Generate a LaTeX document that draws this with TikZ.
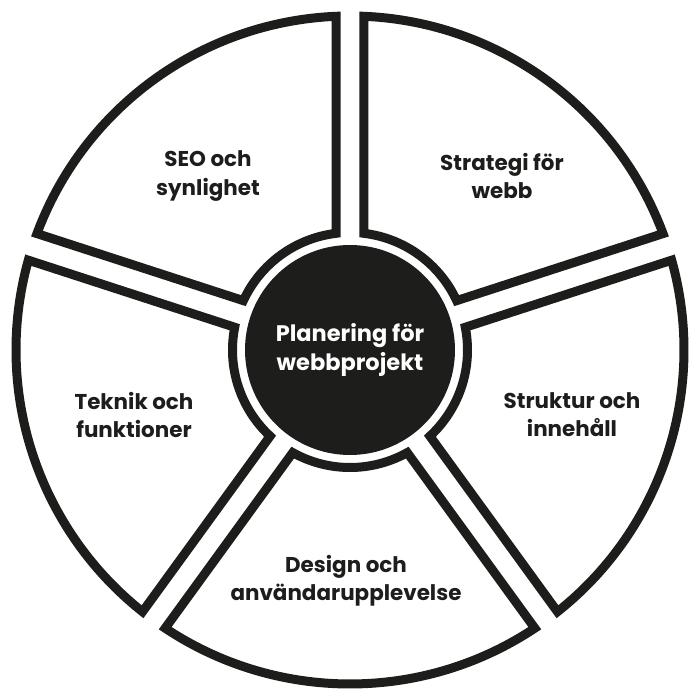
\documentclass[tikz,border=0pt]{standalone}
\usepackage{fontspec}
\setmainfont{Poppins}
\usepackage{tikz}
\usetikzlibrary{positioning}
\definecolor{ink}{RGB}{29,29,27}

\begin{document}
\begin{tikzpicture}[
    seg/.style = {draw = ink, line width = 0.18cm, fill = white},
    lbl/.style = {align = center, text = ink, font = \bfseries\fontsize{12.2}{16.2}\selectfont}
]
            \useasboundingbox (-7, -7) rectangle (7, 7);

            \draw[seg] (20.4:6.68) arc[start angle = 20.4, end angle = 87.6, radius = 6.68] -- (83.16:2.35) arc[start angle = 83.16, end angle = 24.84, radius = 2.35] -- cycle;
            \draw[seg] (92.4:6.68) arc[start angle = 92.4, end angle = 159.6, radius = 6.68] -- (155.16:2.35) arc[start angle = 155.16, end angle = 96.84, radius = 2.35] -- cycle;
            \draw[seg] (164.4:6.68) arc[start angle = 164.4, end angle = 231.6, radius = 6.68] -- (227.16:2.35) arc[start angle = 227.16, end angle = 168.84, radius = 2.35] -- cycle;
            \draw[seg] (236.4:6.68) arc[start angle = 236.4, end angle = 303.6, radius = 6.68] -- (299.16:2.35) arc[start angle = 299.16, end angle = 240.84, radius = 2.35] -- cycle;
            \draw[seg] (308.4:6.68) arc[start angle = 308.4, end angle = 375.6, radius = 6.68] -- (371.16:2.35) arc[start angle = 371.16, end angle = 312.84, radius = 2.35] -- cycle;

            \node[circle, fill = ink, minimum size = 4.2cm, inner sep = 0pt, lbl, text = white, font = \bfseries\fontsize{12.8}{16.2}\selectfont] (plan) at (0, 0) {Planering för\\webbprojekt};

            \node[lbl] (strategi) at (3.04, 3.48) {Strategi för\\webb};
            \node[lbl] (seo) at (-2.84, 3.48) {SEO och\\synlighet};
            \node[lbl] (teknik) at (-4.32, -1.30) {Teknik och\\funktioner};
            \node[lbl] (design) at (-0.08, -4.62) {Design och\\användarupplevelse};
            \node[lbl] (struktur) at (4.44, -1.29) {Struktur och\\innehåll};

        \end{tikzpicture}
\end{document}
